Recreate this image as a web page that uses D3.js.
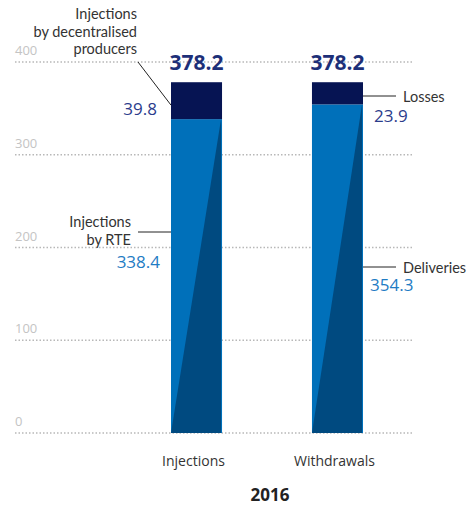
<!DOCTYPE html>
<html>
<head>
<meta charset="utf-8">
<script src="https://cdn.jsdelivr.net/npm/d3@7"></script>
<style>
  body { margin: 0; background: #fff; }
  text { font-family: "Open Sans", "Noto Sans", sans-serif; }
  .note { font-family: Lato, "Open Sans", sans-serif; }
</style>
</head>
<body>
<svg id="chart" width="471" height="506"></svg>
<script>
const categories = ["Injections", "Withdrawals"];
const lowerValues = [338.4, 354.3];   // Injections by RTE / Deliveries
const upperValues = [39.8, 23.9];     // decentralised producers / Losses
const totals = [378.2, 378.2];
const yTicks = [0, 100, 200, 300, 400];
const year = "2016";

const svg = d3.select("#chart");

const x = d3.scaleBand().domain(categories).range([171, 363]).paddingInner(0.638).paddingOuter(0);
const y = d3.scaleLinear().domain([0, 400]).range([433, 62]);

// gridlines + tick labels
const grid = svg.append("g");
grid.selectAll("line")
    .data(yTicks)
    .enter().append("line")
    .attr("x1", 15).attr("x2", 414)
    .attr("y1", d => y(d)).attr("y2", d => y(d))
    .attr("stroke", "#b8b8b8")
    .attr("stroke-width", 1.5)
    .attr("stroke-dasharray", "1.5,2");

grid.selectAll("text")
    .data(yTicks)
    .enter().append("text")
    .attr("x", 15)
    .attr("y", d => y(d) - 7)
    .attr("font-size", 13)
    .attr("fill", "#c4c4c4")
    .text(d => d);

// bars
const bars = svg.append("g").selectAll("g")
    .data(categories.map((c, i) => ({ c, lo: lowerValues[i], hi: upperValues[i], total: totals[i] })))
    .enter().append("g");

bars.append("rect")
    .attr("x", d => x(d.c))
    .attr("width", x.bandwidth())
    .attr("y", d => y(d.lo))
    .attr("height", d => y(0) - y(d.lo))
    .attr("fill", "#0070ba");

bars.append("path")
    .attr("d", d => {
        const x0 = x(d.c), x1 = x(d.c) + x.bandwidth() - 1;
        return `M${x0},${y(0)} L${x1},${y(0)} L${x1},${y(d.lo)} Z`;
    })
    .attr("fill", "#004a80");

bars.append("rect")
    .attr("x", d => x(d.c))
    .attr("width", x.bandwidth())
    .attr("y", d => y(d.lo + d.hi))
    .attr("height", d => y(d.lo) - y(d.lo + d.hi))
    .attr("fill", "#061453");

bars.append("text")
    .attr("x", d => x(d.c) + x.bandwidth() / 2)
    .attr("y", d => y(d.total) - 12)
    .attr("text-anchor", "middle")
    .attr("font-size", 21)
    .attr("font-weight", "bold")
    .attr("fill", "#1d2f78")
    .text(d => d.total.toFixed(1));

// category labels
svg.append("g").selectAll("text")
    .data(categories)
    .enter().append("text")
    .attr("x", d => x(d) + x.bandwidth() / 2 - 3)
    .attr("y", 466)
    .attr("text-anchor", "middle")
    .attr("font-size", 14)
    .attr("fill", "#333")
    .text(d => d);

svg.append("text")
    .attr("x", 270)
    .attr("y", 501)
    .attr("text-anchor", "middle")
    .attr("font-size", 17)
    .attr("font-weight", "bold")
    .attr("fill", "#222")
    .text(year);

// annotations
const left0 = x(categories[0]);
const right1 = x(categories[1]) + x.bandwidth();

function lines(xp, yp, arr, anchor) {
    const t = svg.append("text")
        .attr("class", "note")
        .attr("text-anchor", anchor)
        .attr("font-size", 14.5)
        .attr("fill", "#333");
    arr.forEach((s, i) => t.append("tspan").attr("x", xp).attr("y", yp + i * 17.5).text(s));
}

lines(137, 19, ["Injections", "by decentralised", "producers"], "end");
svg.append("line")
    .attr("x1", 138).attr("y1", 62)
    .attr("x2", left0).attr("y2", y(lowerValues[0] + upperValues[0] * 0.38))
    .attr("stroke", "#222").attr("stroke-width", 1);
svg.append("text")
    .attr("x", 157).attr("y", 115)
    .attr("text-anchor", "end")
    .attr("font-size", 17).attr("fill", "#2b3c8c")
    .text(upperValues[0].toFixed(1));

lines(131, 227, ["Injections", "by RTE"], "end");
svg.append("line")
    .attr("x1", 138).attr("x2", left0)
    .attr("y1", 232).attr("y2", 232)
    .attr("stroke", "#222").attr("stroke-width", 1);
svg.append("text")
    .attr("x", 160).attr("y", 268)
    .attr("text-anchor", "end")
    .attr("font-size", 17).attr("fill", "#1f7cc4")
    .text(lowerValues[0].toFixed(1));

svg.append("line")
    .attr("x1", right1).attr("x2", 396)
    .attr("y1", 96).attr("y2", 96)
    .attr("stroke", "#222").attr("stroke-width", 1);
lines(403, 102, ["Losses"], "start");
svg.append("text")
    .attr("x", 374).attr("y", 122)
    .attr("font-size", 17).attr("fill", "#2b3c8c")
    .text(upperValues[1].toFixed(1));

svg.append("line")
    .attr("x1", right1).attr("x2", 396)
    .attr("y1", 267).attr("y2", 267)
    .attr("stroke", "#222").attr("stroke-width", 1);
lines(403, 273, ["Deliveries"], "start");
svg.append("text")
    .attr("x", 370).attr("y", 291)
    .attr("font-size", 17).attr("fill", "#1f7cc4")
    .text(lowerValues[1].toFixed(1));
</script>
</body>
</html>
